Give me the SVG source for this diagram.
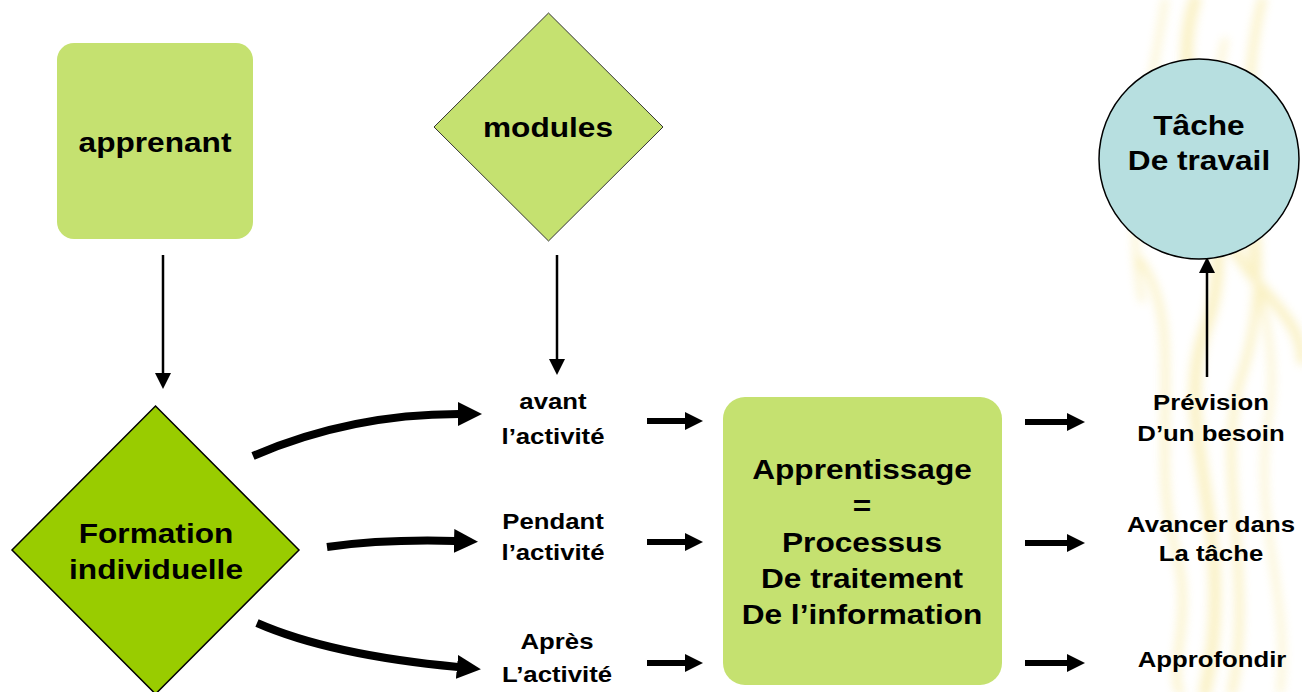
<svg xmlns="http://www.w3.org/2000/svg" width="1302" height="692" viewBox="0 0 1302 692">
<style>
.t{font-family:"Liberation Sans",Arial,sans-serif;font-weight:bold;fill:#000;text-anchor:middle}
.big{font-size:28px}
.lbl{font-size:23px}
.lblr{font-size:23px}
.lg{fill:#c5e170}
.thin{fill:none;stroke:#000;stroke-width:2.5}
.thick{fill:none;stroke:#000;stroke-width:6}
.curve{fill:none;stroke:#000;stroke-width:8}
.wisp{fill:none;stroke:#f3dc6a;stroke-linecap:round}
</style>
<defs>
<marker id="hThin" markerUnits="userSpaceOnUse" viewBox="0 0 16 16" refX="1" refY="8" markerWidth="16" markerHeight="16" orient="auto">
<path d="M0,0 L16,8 L0,16 Z" fill="#000"/>
</marker>
<marker id="hMed" markerUnits="userSpaceOnUse" viewBox="0 0 18 18" refX="1" refY="9" markerWidth="18" markerHeight="18" orient="auto">
<path d="M0,0 L18,9 L0,18 Z" fill="#000"/>
</marker>
<marker id="hBig" markerUnits="userSpaceOnUse" viewBox="0 0 24 24" refX="1" refY="12" markerWidth="24" markerHeight="24" orient="auto">
<path d="M0,0 L24,12 L0,24 Z" fill="#000"/>
</marker>
<filter id="blur" x="-30%" y="-10%" width="160%" height="120%">
<feGaussianBlur stdDeviation="5"/>
</filter>
</defs>
<rect width="1302" height="692" fill="#fff"/>
<g id="background" filter="url(#blur)" opacity="0.38">
<path class="wisp" stroke-width="12" d="M1195,0 C1160,110 1250,210 1205,330 C1170,430 1240,530 1205,692"/>
<path class="wisp" stroke-width="8" d="M1262,0 C1225,150 1285,250 1240,380 C1215,470 1255,580 1232,692"/>
<path class="wisp" stroke-width="7" d="M1140,260 C1190,330 1145,450 1178,560 C1192,620 1168,670 1180,692"/>
<path class="wisp" stroke-width="5" stroke="#d9c98f" d="M1225,40 C1195,160 1292,300 1268,420 C1252,520 1292,600 1280,692"/>
<path class="wisp" stroke-width="10" d="M1225,235 C1262,300 1302,318 1302,360"/>
<path class="wisp" stroke-width="5" stroke="#e6d9a8" d="M1165,0 C1150,100 1122,200 1142,300"/>
</g>
<g id="connectors">
<path class="thin" d="M163,255 L163,374" marker-end="url(#hThin)"/>
<path class="thin" d="M557,255 L557,360" marker-end="url(#hThin)"/>
<path class="thin" stroke-width="3" d="M1207,377 L1207,272" marker-end="url(#hThin)"/>
<path class="curve" d="M253,456 Q350,414 459,414" marker-end="url(#hBig)"/>
<path class="curve" d="M327,547 Q385,539 455,541" marker-end="url(#hBig)"/>
<path class="curve" d="M257,623 Q330,655 458,667" marker-end="url(#hBig)"/>
<path class="thick" d="M647,421 L686,421" marker-end="url(#hMed)"/>
<path class="thick" d="M647,542 L686,542" marker-end="url(#hMed)"/>
<path class="thick" d="M647,663 L686,663" marker-end="url(#hMed)"/>
<path class="thick" d="M1025,422 L1068,422" marker-end="url(#hMed)"/>
<path class="thick" d="M1025,543 L1068,543" marker-end="url(#hMed)"/>
<path class="thick" d="M1025,663 L1068,663" marker-end="url(#hMed)"/>
</g>
<g id="apprenant">
<rect class="lg" x="57" y="43" width="196" height="196" rx="17"/>
<text class="t big" transform="translate(155,152) scale(1.13,1)">apprenant</text>
</g>
<g id="modules">
<path class="lg" d="M548.5,13 L663,127 L548.5,241 L434,127 Z" stroke="#333" stroke-width="1"/>
<text class="t big" transform="translate(548,137) scale(1.13,1)">modules</text>
</g>
<g id="tache">
<circle cx="1199" cy="159" r="100" fill="#b7dfe0" stroke="#000" stroke-width="1.5"/>
<text class="t big" transform="translate(1199,135) scale(1.13,1)">Tâche</text>
<text class="t big" transform="translate(1199,170) scale(1.13,1)">De travail</text>
</g>
<g id="formation">
<path d="M155.5,406 L299,550 L155.5,694 L12,550 Z" fill="#99cc00" stroke="#000" stroke-width="1.5"/>
<text class="t big" transform="translate(156,543) scale(1.13,1)">Formation</text>
<text class="t big" transform="translate(156,579) scale(1.13,1)">individuelle</text>
</g>
<g id="apprentissage">
<rect class="lg" x="723" y="397" width="279" height="288" rx="22"/>
<text class="t big" transform="translate(862,479) scale(1.13,1)">Apprentissage</text>
<text class="t big" transform="translate(862,515) scale(1.13,1)">=</text>
<text class="t big" transform="translate(862,552) scale(1.13,1)">Processus</text>
<text class="t big" transform="translate(862,588) scale(1.13,1)">De traitement</text>
<text class="t big" transform="translate(862,624) scale(1.13,1)">De l’information</text>
</g>
<g id="avant">
<text class="t lbl" transform="translate(553,409) scale(1.12,1)">avant</text>
<text class="t lbl" transform="translate(553,444) scale(1.12,1)">l’activité</text>
</g>
<g id="pendant">
<text class="t lbl" transform="translate(553,529) scale(1.12,1)">Pendant</text>
<text class="t lbl" transform="translate(553,560) scale(1.12,1)">l’activité</text>
</g>
<g id="apres">
<text class="t lbl" transform="translate(557,649) scale(1.12,1)">Après</text>
<text class="t lbl" transform="translate(557,682) scale(1.12,1)">L’activité</text>
</g>
<g id="prevision">
<text class="t lblr" transform="translate(1211,410) scale(1.12,1)">Prévision</text>
<text class="t lblr" transform="translate(1211,441) scale(1.12,1)">D’un besoin</text>
</g>
<g id="avancer">
<text class="t lblr" transform="translate(1211,532) scale(1.12,1)">Avancer dans</text>
<text class="t lblr" transform="translate(1211,561) scale(1.12,1)">La tâche</text>
</g>
<g id="approfondir">
<text class="t lblr" transform="translate(1212,667) scale(1.12,1)">Approfondir</text>
</g>
</svg>
